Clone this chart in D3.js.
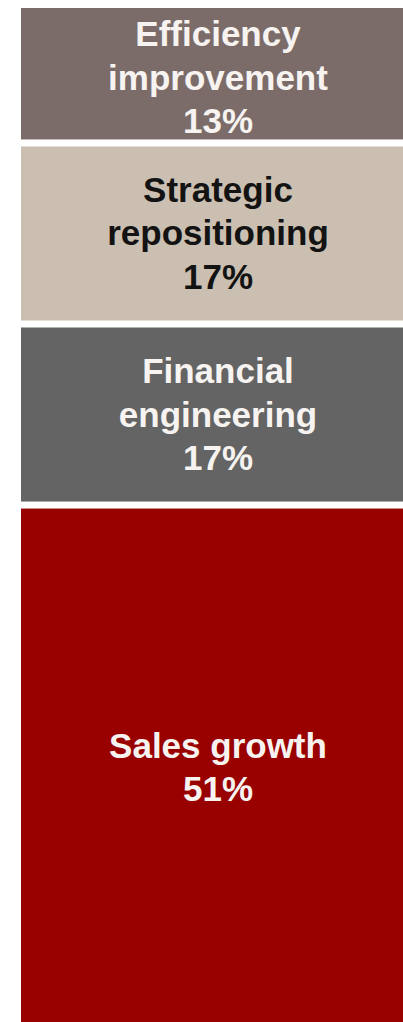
<!DOCTYPE html>
<html>
<head>
<meta charset="utf-8">
<script src="https://cdn.jsdelivr.net/npm/d3@7"></script>
<style>
  html, body { margin: 0; padding: 0; background: #fff; overflow: hidden; }
  svg { display: block; }
</style>
</head>
<body>
<div id="chart"></div>
<script>
// value creation drivers, top to bottom
const categories = ["Efficiency improvement", "Strategic repositioning", "Financial engineering", "Sales growth"];
const labelLines = [["Efficiency", "improvement"], ["Strategic", "repositioning"], ["Financial", "engineering"], ["Sales growth"]];
const shares = [13, 17, 17, 51];

const colors = ["#7b6c69", "#cbbfb1", "#646464", "#990000"];
const textColors = ["#f6f3f0", "#131313", "#f6f3f0", "#f6f3f0"];
// small vertical nudges of the label blocks (px), as in the original slide
const labelShift = [4, 0, 0, -9];

const W = 403, H = 1022;
const gap = 7;
const fontSize = 35, lineH = 43.5;

const svg = d3.select("#chart").append("svg")
  .attr("width", W)
  .attr("height", H);

const x = d3.scaleBand()
  .domain(["all"])
  .range([21, 415])
  .padding(0);

const y = d3.scaleLinear()
  .domain([0, 100])
  .range([4.5, 4.5 + 1065]);

// cumulative start of each block
let cum = 0;
const rows = shares.map((v, i) => {
  const r = { name: categories[i], v: v, start: cum, lines: labelLines[i].concat([v + "%"]) };
  cum += v;
  return r;
});

svg.selectAll(".seg")
  .data(rows)
  .enter()
  .append("rect")
  .attr("class", "seg")
  .attr("x", x("all"))
  .attr("width", x.bandwidth())
  .attr("y", d => y(d.start) + gap / 2)
  .attr("height", d => y(d.start + d.v) - y(d.start) - gap)
  .attr("fill", (d, i) => colors[i]);

const labels = svg.selectAll(".lab")
  .data(rows)
  .enter()
  .append("text")
  .attr("class", "lab")
  .attr("text-anchor", "middle")
  .attr("font-family", "'Liberation Sans', Arial, sans-serif")
  .attr("font-weight", "bold")
  .attr("font-size", fontSize)
  .attr("fill", (d, i) => textColors[i]);

labels.each(function (d, i) {
  const mid = (y(d.start) + y(d.start + d.v)) / 2;
  const n = d.lines.length;
  const first = mid + 12 + labelShift[i] - (n - 1) / 2 * lineH;
  d3.select(this).selectAll("tspan")
    .data(d.lines)
    .enter()
    .append("tspan")
    .attr("x", x("all") + x.bandwidth() / 2)
    .attr("y", (t, j) => first + j * lineH)
    .text(t => t);
});
</script>
</body>
</html>
